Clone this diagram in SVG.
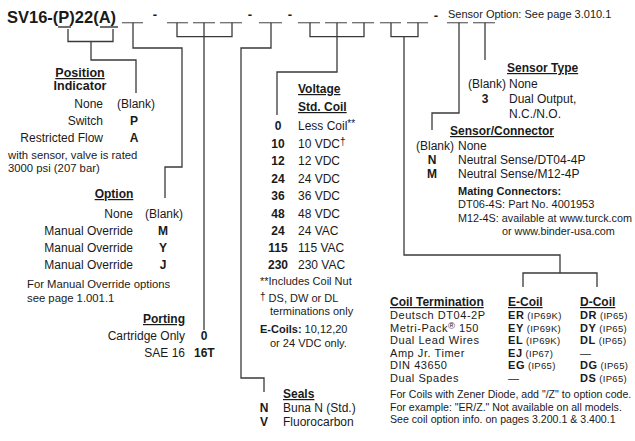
<svg xmlns="http://www.w3.org/2000/svg" width="635" height="441" viewBox="0 0 635 441">
<style>
text{font-family:"Liberation Sans",Arial,Helvetica,sans-serif;font-size:12px;fill:#1a1a1a}
.b{font-weight:bold}
.h{font-weight:bold;text-decoration:underline}
.s{font-size:11px}
.sm{font-size:10px}
.e{text-anchor:end}
.m{text-anchor:middle}
.r{font-size:11px;letter-spacing:0.55px}
.r .sm{font-size:9.5px;letter-spacing:0.3px}
.ln{fill:none;stroke:#3a3a3a;stroke-width:1.3}
.bl{fill:none;stroke:#6e6e6e;stroke-width:1.3}
</style>
<rect width="635" height="441" fill="#fff"/>

<g id="title">
<text x="7" y="23" class="b" style="font-size:16.5px">SV16-(P)22(A)</text>
<text x="155" y="19" class="b m" style="font-size:13px">-</text>
<text x="250" y="19" class="b m" style="font-size:13px">-</text>
<text x="290" y="19" class="b m" style="font-size:13px">-</text>
<text x="436" y="20" class="b m" style="font-size:13px">-</text>
<text x="448" y="18" class="s">Sensor Option: See page 3.010.1</text>
<g class="bl">
<line x1="58" y1="27" x2="71" y2="27" style="stroke:#222"/>
<line x1="100" y1="27" x2="118" y2="27" style="stroke:#222"/>
<line x1="122" y1="22.7" x2="143" y2="22.7"/>
<line x1="167" y1="22.7" x2="188" y2="22.7"/>
<line x1="193" y1="22.7" x2="215" y2="22.7"/>
<line x1="220" y1="22.7" x2="242" y2="22.7"/>
<line x1="259" y1="22.7" x2="282" y2="22.7"/>
<line x1="298" y1="22.7" x2="320" y2="22.7"/>
<line x1="325" y1="22.7" x2="347" y2="22.7"/>
<line x1="352" y1="22.7" x2="374" y2="22.7"/>
<line x1="380" y1="22.7" x2="401" y2="22.7"/>
<line x1="407" y1="22.7" x2="428" y2="22.7"/>
<line x1="447" y1="22.7" x2="468" y2="22.7"/>
<line x1="473" y1="22.7" x2="495" y2="22.7"/>
</g>
</g>

<g id="connectors" class="ln">
<path d="M68,29V41.5H113V29M91,41.5V60H136V93"/>
<path d="M133,22.7V48H182V167H165V198"/>
<path d="M177,22.7V36.7H232V22.7M204,22.7V330"/>
<path d="M271,22.7V48H241V378H264V392"/>
<path d="M310,22.7V36.7H364V22.7M337,22.7V72H277V115"/>
<path d="M391,22.7V36.7H418V22.7M404,36.7V255H560V273M523,287V273H597V287"/>
<path d="M459,22.7V113H432V130"/>
<path d="M485,22.7V60"/>
</g>

<g id="position-indicator">
<text x="80" y="77" class="h m" style="font-size:12.5px">Position</text>
<text x="80" y="90" class="b m" style="font-size:12.5px">Indicator</text>
<text x="103" y="108" class="e">None</text>
<text x="117" y="108">(Blank)</text>
<text x="103" y="125" class="e">Switch</text>
<text x="134" y="125" class="b m">P</text>
<text x="103" y="142" class="e">Restricted Flow</text>
<text x="134" y="142" class="b m">A</text>
<text x="8" y="159" style="font-size:11.3px">with sensor, valve is rated</text>
<text x="8" y="172" style="font-size:11.3px">3000 psi (207 bar)</text>
</g>

<g id="option">
<text x="114" y="198" class="h m">Option</text>
<text x="133" y="218" class="e">None</text>
<text x="145" y="218">(Blank)</text>
<text x="133" y="235" class="e">Manual Override</text>
<text x="163" y="235" class="b m">M</text>
<text x="133" y="252" class="e">Manual Override</text>
<text x="163" y="252" class="b m">Y</text>
<text x="133" y="269" class="e">Manual Override</text>
<text x="163" y="269" class="b m">J</text>
<text x="27" y="288" style="font-size:11.3px">For Manual Override options</text>
<text x="27" y="302" style="font-size:11.3px">see page 1.001.1</text>
</g>

<g id="porting">
<text x="164" y="323" class="h m">Porting</text>
<text x="185" y="340" class="e">Cartridge Only</text>
<text x="204" y="340" class="b m">0</text>
<text x="185" y="357" class="e">SAE 16</text>
<text x="194" y="357" class="b">16T</text>
</g>

<g id="seals">
<text x="283" y="398" class="h">Seals</text>
<text x="264" y="412" class="b m">N</text>
<text x="283" y="412">Buna N (Std.)</text>
<text x="264" y="426" class="b m">V</text>
<text x="283" y="426">Fluorocarbon</text>
</g>

<g id="voltage">
<text x="298" y="93" class="h">Voltage</text>
<text x="298" y="111" class="h">Std. Coil</text>
<text x="278" y="130" class="b m">0</text>
<text x="298" y="130">Less Coil<tspan class="sm" dy="-3">**</tspan></text>
<text x="278" y="147.5" class="b m">10</text>
<text x="298" y="147.5">10 VDC<tspan class="sm" dy="-3">†</tspan></text>
<text x="278" y="165" class="b m">12</text>
<text x="298" y="165">12 VDC</text>
<text x="278" y="182.5" class="b m">24</text>
<text x="298" y="182.5">24 VDC</text>
<text x="278" y="200" class="b m">36</text>
<text x="298" y="200">36 VDC</text>
<text x="278" y="217.5" class="b m">48</text>
<text x="298" y="217.5">48 VDC</text>
<text x="278" y="235" class="b m">24</text>
<text x="298" y="235">24 VAC</text>
<text x="278" y="252" class="b m">115</text>
<text x="298" y="252">115 VAC</text>
<text x="278" y="269" class="b m">230</text>
<text x="298" y="269">230 VAC</text>
<text x="260" y="285" class="s">**Includes Coil Nut</text>
<text x="260" y="302" class="s"><tspan class="sm" dy="-2">†</tspan><tspan dy="2"> DS, DW or DL</tspan></text>
<text x="270" y="315" class="s">terminations only</text>
<text x="260" y="333" class="s"><tspan class="b">E-Coils:</tspan> 10,12,20</text>
<text x="270" y="347" class="s">or 24 VDC only.</text>
</g>

<g id="sensor-type">
<text x="507" y="72" class="h">Sensor Type</text>
<text x="468" y="88">(Blank)</text>
<text x="509" y="88">None</text>
<text x="485" y="103" class="b m">3</text>
<text x="509" y="103">Dual Output,</text>
<text x="509" y="118">N.C./N.O.</text>
</g>

<g id="sensor-connector">
<text x="450" y="135" class="h">Sensor/Connector</text>
<text x="416" y="150">(Blank)</text>
<text x="458" y="150">None</text>
<text x="432" y="164" class="b m">N</text>
<text x="458" y="164">Neutral Sense/DT04-4P</text>
<text x="432" y="178" class="b m">M</text>
<text x="458" y="178">Neutral Sense/M12-4P</text>
<text x="458" y="195" class="b s">Mating Connectors:</text>
<text x="458" y="208" class="s">DT06-4S: Part No. 4001953</text>
<text x="458" y="222" style="font-size:10.8px">M12-4S: available at www.turck.com</text>
<text x="502" y="235" style="font-size:10.8px">or www.binder-usa.com</text>
</g>

<g id="coil-termination">
<text x="390" y="306" class="h">Coil Termination</text>
<text x="508" y="306" class="h">E-Coil</text>
<text x="580" y="306" class="h">D-Coil</text>
<text x="390" y="319" class="r">Deutsch DT04-2P</text>
<text x="508" y="319" class="r"><tspan class="b">ER</tspan><tspan class="sm"> (IP69K)</tspan></text>
<text x="580" y="319" class="r"><tspan class="b">DR</tspan><tspan class="sm"> (IP65)</tspan></text>
<text x="390" y="331.6" class="r">Metri-Pack<tspan class="sm" dy="-3">®</tspan><tspan dy="3"> 150</tspan></text>
<text x="508" y="331.6" class="r"><tspan class="b">EY</tspan><tspan class="sm"> (IP69K)</tspan></text>
<text x="580" y="331.6" class="r"><tspan class="b">DY</tspan><tspan class="sm"> (IP65)</tspan></text>
<text x="390" y="344.2" class="r">Dual Lead Wires</text>
<text x="508" y="344.2" class="r"><tspan class="b">EL</tspan><tspan class="sm"> (IP69K)</tspan></text>
<text x="580" y="344.2" class="r"><tspan class="b">DL</tspan><tspan class="sm"> (IP65)</tspan></text>
<text x="390" y="356.8" class="r">Amp Jr. Timer</text>
<text x="508" y="356.8" class="r"><tspan class="b">EJ</tspan><tspan class="sm"> (IP67)</tspan></text>
<text x="580" y="356.8" class="r">—</text>
<text x="390" y="369.4" class="r">DIN 43650</text>
<text x="508" y="369.4" class="r"><tspan class="b">EG</tspan><tspan class="sm"> (IP65)</tspan></text>
<text x="580" y="369.4" class="r"><tspan class="b">DG</tspan><tspan class="sm"> (IP65)</tspan></text>
<text x="390" y="382" class="r">Dual Spades</text>
<text x="508" y="382" class="r">—</text>
<text x="580" y="382" class="r"><tspan class="b">DS</tspan><tspan class="sm"> (IP65)</tspan></text>
<text x="390" y="398" style="font-size:10.6px">For Coils with Zener Diode, add "/Z" to option code.</text>
<text x="390" y="410.5" style="font-size:10.6px">For example: "ER/Z." Not available on all models.</text>
<text x="390" y="423" style="font-size:10.6px">See coil option info. on pages 3.200.1 &amp; 3.400.1</text>
</g>
</svg>
